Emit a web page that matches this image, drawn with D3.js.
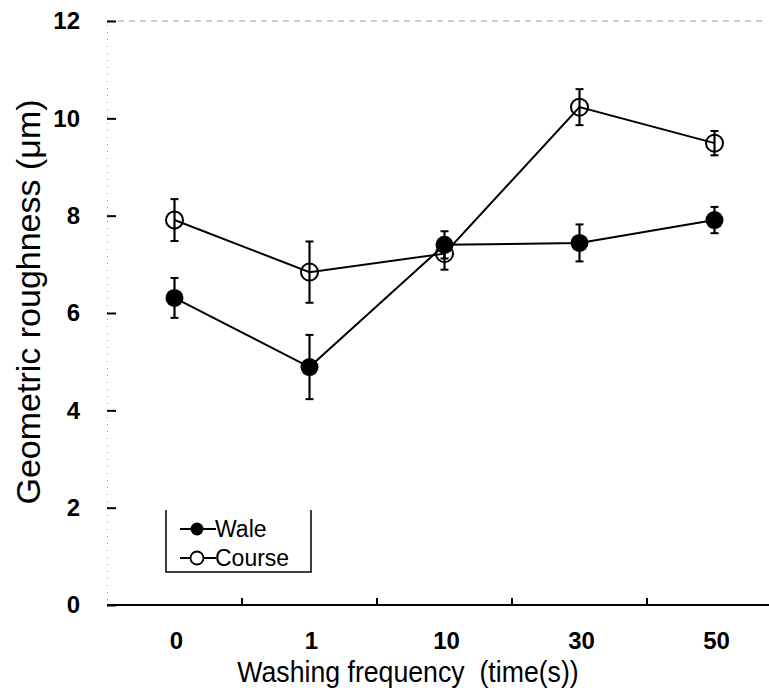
<!DOCTYPE html>
<html>
<head>
<meta charset="utf-8">
<script src="https://cdn.jsdelivr.net/npm/d3@7"></script>
<style>
    body { margin: 0; background: #fff; }
    text { font-family: "Liberation Sans", Arial, sans-serif; fill: #000; }
</style>
</head>
<body>
<svg id="chart" width="769" height="693"></svg>
<script>
var categories = ["0", "1", "10", "30", "50"];
var waleValues = [6.31, 4.89, 7.40, 7.44, 7.91];
var waleErrors = [0.41, 0.66, 0.28, 0.38, 0.27];
var courseValues = [7.91, 6.84, 7.22, 10.23, 9.49];
var courseErrors = [0.43, 0.63, 0.33, 0.37, 0.25];
var yTicks = [0, 2, 4, 6, 8, 10, 12];

var style = {
    left: 107,
    right: 782,
    top: 21,
    bottom: 605,
    radius: 8.5,
    cap: 4
};

var svg = d3.select("#chart");

var x = d3.scaleBand()
    .domain(categories)
    .range([style.left, style.right]);

var y = d3.scaleLinear()
    .domain([0, 12])
    .range([style.bottom, style.top]);

var cx = function(d, i) { return x(categories[i]) + x.bandwidth() / 2; };

// top frame line, faded in the scan
svg.append("line")
    .attr("x1", style.left)
    .attr("x2", 765)
    .attr("y1", y(12))
    .attr("y2", y(12))
    .attr("stroke", "#999")
    .attr("stroke-width", 1.2)
    .attr("stroke-dasharray", "6,5");

// y axis
var yAxis = svg.append("g")
    .attr("transform", "translate(" + style.left + ",0)")
    .call(d3.axisLeft(y).tickValues(yTicks).tickSize(-9).tickPadding(27));

yAxis.select(".domain")
    .attr("stroke", "#999")
    .attr("stroke-width", 1)
    .attr("stroke-dasharray", "1,6");

yAxis.selectAll(".tick line")
    .attr("stroke", "#000")
    .attr("stroke-width", 2);

yAxis.selectAll(".tick text")
    .style("font-family", "'Liberation Sans', Arial, sans-serif")
    .style("font-size", "24px")
    .style("font-weight", "bold")
    .attr("fill", "#000");

// x axis
svg.append("line")
    .attr("x1", style.left)
    .attr("x2", 769)
    .attr("y1", y(0))
    .attr("y2", y(0))
    .attr("stroke", "#000")
    .attr("stroke-width", 2.2);

svg.selectAll(".xTick")
    .data(categories.slice(1))
    .enter()
    .append("line")
    .attr("class", "xTick")
    .attr("x1", function(d) { return x(d); })
    .attr("x2", function(d) { return x(d); })
    .attr("y1", y(0))
    .attr("y2", y(0) - 7)
    .attr("stroke", "#000")
    .attr("stroke-width", 2);

svg.selectAll(".xLabel")
    .data(categories)
    .enter()
    .append("text")
    .attr("class", "xLabel")
    .attr("x", function(d) { return x(d) + x.bandwidth() / 2 + 2; })
    .attr("y", 649)
    .attr("text-anchor", "middle")
    .style("font-size", "24px")
    .style("font-weight", "bold")
    .text(function(d) { return d; });

// axis titles
svg.append("text")
    .attr("transform", "translate(408,682) scale(0.92,1)")
    .attr("text-anchor", "middle")
    .style("font-size", "29px")
    .text("Washing frequency\u00a0 (time(s))");

svg.append("text")
    .attr("transform", "translate(40,302) rotate(-90)")
    .attr("text-anchor", "middle")
    .style("font-size", "34px")
    .text("Geometric roughness (\u03bcm)");

var drawSeries = function(values, errors, filled, name) {
    var layer = svg.append("g").attr("class", name);

    var line = d3.line()
        .x(cx)
        .y(function(d) { return y(d); });

    layer.append("path")
        .datum(values)
        .attr("d", line)
        .attr("fill", "none")
        .attr("stroke", "#000")
        .attr("stroke-width", 2);

    var bars = layer.selectAll(".err")
        .data(values)
        .enter()
        .append("g")
        .attr("class", "err");

    bars.append("line")
        .attr("x1", cx)
        .attr("x2", cx)
        .attr("y1", function(d, i) { return y(d + errors[i]); })
        .attr("y2", function(d, i) { return y(d - errors[i]); })
        .attr("stroke", "#000")
        .attr("stroke-width", 2.2);

    [1, -1].forEach(function(sign) {
        bars.append("line")
            .attr("x1", function(d, i) { return cx(d, i) - style.cap; })
            .attr("x2", function(d, i) { return cx(d, i) + style.cap; })
            .attr("y1", function(d, i) { return y(d + sign * errors[i]); })
            .attr("y2", function(d, i) { return y(d + sign * errors[i]); })
            .attr("stroke", "#000")
            .attr("stroke-width", 2);
    });

    layer.selectAll(".pt")
        .data(values)
        .enter()
        .append("circle")
        .attr("class", "pt")
        .attr("cx", cx)
        .attr("cy", function(d) { return y(d); })
        .attr("r", filled ? style.radius + 0.5 : style.radius)
        .attr("fill", filled ? "#000" : "none")
        .attr("stroke", "#000")
        .attr("stroke-width", filled ? 0 : 2);
};

drawSeries(waleValues, waleErrors, true, "wale");
drawSeries(courseValues, courseErrors, false, "course");

// legend, top edge not drawn as in the reference
var legend = svg.append("g").attr("class", "legend");

legend.append("path")
    .attr("d", "M166,510 V572 H311 V510")
    .attr("fill", "none")
    .attr("stroke", "#000")
    .attr("stroke-width", 1.5);

var legendItems = [
    { name: "Wale", filled: true, y: 529 },
    { name: "Course", filled: false, y: 558 }
];

legendItems.forEach(function(item) {
    legend.append("line")
        .attr("x1", 180)
        .attr("x2", 216)
        .attr("y1", item.y)
        .attr("y2", item.y)
        .attr("stroke", "#000")
        .attr("stroke-width", 1.8);

    legend.append("circle")
        .attr("cx", 197)
        .attr("cy", item.y)
        .attr("r", 6.5)
        .attr("fill", item.filled ? "#000" : "#fff")
        .attr("stroke", "#000")
        .attr("stroke-width", item.filled ? 0 : 1.8);

    legend.append("text")
        .attr("x", 215)
        .attr("y", item.y + 8)
        .style("font-size", "23px")
        .text(item.name);
});
</script>
</body>
</html>
